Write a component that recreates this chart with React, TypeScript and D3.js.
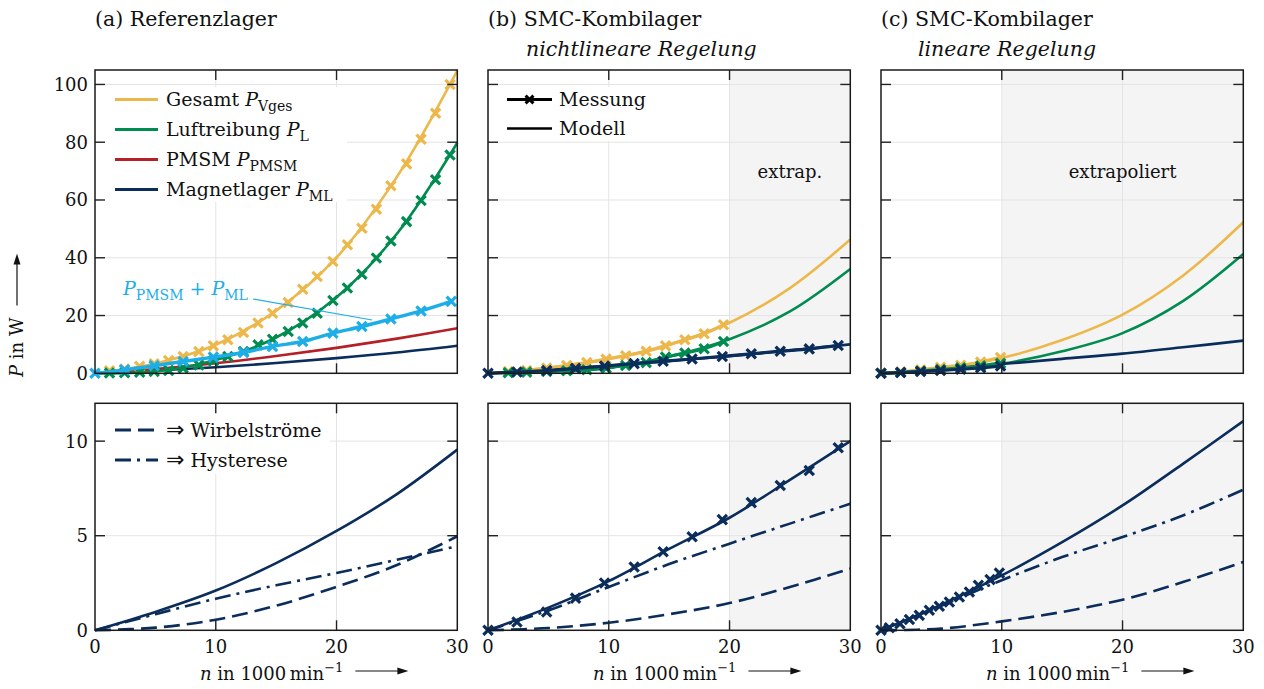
import React, { useEffect, useRef } from 'react';
import * as d3 from 'd3';

// ---------- axes ----------
const X_TICKS = [0, 10, 20, 30];
const TOP_Y_TICKS = [0, 20, 40, 60, 80, 100];
const BOTTOM_Y_TICKS = [0, 5, 10];

// ---------- model sample speeds (1000 min^-1) ----------
const MODEL_N = [0, 5, 10, 15, 20, 25, 30];

// (a) Referenzlager – Modell
const A_GESAMT = [0, 3.4, 9.9, 21.7, 40.1, 68.0, 104.8];
const A_LUFT = [0, 0.6, 4.6, 12.4, 26.3, 48.3, 79.8];
const A_PMSM = [0, 1.5, 3.5, 6.0, 8.8, 12.0, 15.6];
const A_ML = [0, 0.97, 2.1, 3.55, 5.25, 7.2, 9.55];
const A_WIRBEL = [0, 0.14, 0.56, 1.3, 2.3, 3.45, 4.97];
const A_HYST = [0, 0.85, 1.67, 2.38, 3.03, 3.73, 4.45];

// (a) Referenzlager – Messung
const A_MESS_N = [1.2, 2.45, 3.7, 4.9, 6.1, 7.3, 8.6, 9.8, 11.0, 12.3, 13.5, 14.7, 16.0, 17.2, 18.4, 19.7, 20.9, 22.1, 23.3, 24.5, 25.8, 27.0, 28.2, 29.4];
const A_MESS_GESAMT = [0.9, 1.5, 2.4, 3.3, 4.4, 5.8, 7.5, 9.5, 11.6, 14.1, 17.4, 20.8, 24.5, 29.1, 33.5, 38.7, 44.5, 50.2, 56.8, 64.9, 72.5, 81.0, 90.0, 100.0];
const A_MESS_LUFT = [0.1, 0.2, 0.4, 0.6, 1.0, 1.8, 2.9, 4.3, 5.8, 7.5, 9.9, 11.8, 14.5, 17.4, 20.8, 25.2, 29.5, 34.3, 39.9, 45.8, 52.5, 59.8, 67.0, 75.6];
const A_SUM_N = [0, 2.45, 4.9, 7.3, 9.8, 12.3, 14.7, 17.2, 19.7, 22.1, 24.5, 27.0, 29.5];
const A_SUM = [0, 1.2, 2.6, 4.1, 5.6, 7.2, 9.3, 11.0, 13.9, 16.2, 18.8, 21.6, 24.9];

// (b) SMC-Kombilager, nichtlineare Regelung – Modell
const B_GESAMT = [0, 1.9, 5.0, 9.9, 17.5, 29.5, 46.3];
const B_LUFT = [0, 0.6, 1.9, 5.8, 11.8, 21.4, 36.1];
const B_ML = [0, 1.2, 2.6, 4.3, 5.95, 7.95, 10.0];
const B_WIRBEL = [0, 0.12, 0.4, 0.85, 1.44, 2.29, 3.26];
const B_HYST = [0, 1.05, 2.29, 3.5, 4.58, 5.64, 6.69];

// (b) – Messung
const B_MESS_N = [1.68, 3.2, 4.86, 6.52, 8.18, 9.78, 11.4, 13.1, 14.7, 16.3, 17.9, 19.5];
const B_MESS_GESAMT = [0.6, 1.0, 1.8, 2.7, 3.7, 4.9, 6.1, 7.6, 9.5, 11.6, 13.7, 16.8];
const B_MESS_LUFT = [0.2, 0.4, 0.6, 0.9, 1.2, 1.8, 2.7, 3.7, 5.6, 7.0, 8.5, 11.0];
const B_MESS_ML_N = [0, 2.4, 4.86, 7.25, 9.65, 12.1, 14.5, 16.9, 19.4, 21.8, 24.2, 26.6, 29.0];
const B_MESS_ML = [0, 0.44, 0.97, 1.7, 2.5, 3.35, 4.15, 4.95, 5.85, 6.75, 7.65, 8.45, 9.65];

// (c) SMC-Kombilager, lineare Regelung – Modell
const C_GESAMT = [0, 1.8, 5.3, 11.5, 20.3, 33.8, 52.3];
const C_LUFT = [0, 1.0, 3.3, 7.6, 13.9, 25.0, 41.3];
const C_ML_TOP = [0, 1.4, 3.2, 5.0, 6.8, 9.0, 11.3];
const C_ML = [0, 1.36, 2.9, 4.66, 6.6, 8.8, 11.06];
const C_WIRBEL = [0, 0.09, 0.47, 0.97, 1.62, 2.55, 3.61];
const C_HYST = [0, 1.3, 2.65, 3.87, 4.93, 6.07, 7.43];

// (c) – Messung
const C_MESS_N = [0, 1.63, 3.28, 4.93, 6.6, 8.25, 9.9];
const C_MESS_GESAMT = [0, 0.5, 1.2, 2.1, 2.8, 3.9, 5.5];
const C_MESS_LUFT = [0, 0.3, 0.8, 1.3, 1.9, 2.6, 3.5];
const C_MESS_ML_TOP = [0, 0.25, 0.6, 1.0, 1.4, 1.9, 2.5];
const C_MESS_ML_N = [0, 0.69, 1.57, 2.35, 3.17, 4.0, 4.83, 5.66, 6.49, 7.32, 8.06, 9.03, 9.8];
const C_MESS_ML = [0, 0.14, 0.35, 0.57, 0.79, 1.06, 1.27, 1.5, 1.76, 2.02, 2.38, 2.68, 3.03];

// ---------- styling ----------
const YELLOW = '#ECB84C';
const GREEN = '#008B50';
const RED = '#B51F26';
const NAVY = '#0B2D5B';
const CYAN = '#1DAEE8';
const GRID = '#e4e4e4';
const SHADE = '#f4f4f4';
const FONT = 'DejaVu Serif';

const LEFTS = [95, 488, 881];
const PW = 362.3;
const TOP_P = { y0: 70, y1: 373.3, max: 105 };
const BOT_P = { y0: 403.3, y1: 630.3, max: 12 };

type Part = { t: string; italic?: boolean; sub?: boolean; sup?: boolean; arrow?: boolean };

function richText(parent: any, x: number, y: number, parts: Part[], fill = '#111', size = 18) {
  const t = parent.append('text').attr('x', x).attr('y', y).attr('fill', fill).attr('font-size', size);
  let shift = 0;
  const small = Math.round(size * 0.72);
  parts.forEach((p) => {
    const ts = t.append('tspan').text(p.t);
    const target = p.sub ? 5 : p.sup ? -8 : 0;
    if (target - shift !== 0) ts.attr('dy', target - shift);
    shift = target;
    if (p.sub || p.sup) ts.attr('font-size', small);
    if (p.italic) ts.attr('font-style', 'italic');
    if (p.arrow) ts.attr('font-family', 'DejaVu Sans').attr('font-size', size + 3);
  });
  return t;
}

const zip = (xs: number[], ys: number[]) => xs.map((x, i) => [x, ys[i]] as [number, number]);

export default function App() {
  const ref = useRef<SVGSVGElement>(null);

  useEffect(() => {
    const svg = d3.select(ref.current);
    svg.selectAll('*').remove();

    const makePanel = (pi: number, top: boolean, shadeFrom: number | null) => {
      const left = LEFTS[pi];
      const P = top ? TOP_P : BOT_P;
      const x = d3.scaleLinear().domain([0, 30]).range([left, left + PW]);
      const y = d3.scaleLinear().domain([0, P.max]).range([P.y1, P.y0]);
      const g = svg.append('g');
      const yTicks = top ? TOP_Y_TICKS : BOTTOM_Y_TICKS;
      if (shadeFrom !== null) {
        g.append('rect').attr('x', x(shadeFrom)).attr('y', P.y0).attr('width', x(30) - x(shadeFrom)).attr('height', P.y1 - P.y0).attr('fill', SHADE);
      }
      X_TICKS.filter((v) => v > 0 && v < 30).forEach((v) => {
        g.append('line').attr('x1', x(v)).attr('x2', x(v)).attr('y1', P.y0).attr('y2', P.y1).attr('stroke', GRID).attr('stroke-width', 1);
      });
      yTicks.filter((v) => v > 0).forEach((v) => {
        g.append('line').attr('x1', x(0)).attr('x2', x(30)).attr('y1', y(v)).attr('y2', y(v)).attr('stroke', GRID).attr('stroke-width', 1);
      });
      return { g, x, y, left, P, yTicks };
    };

    const finishPanel = (p: any, showYLabels: boolean, showXLabels: boolean) => {
      const { g, x, y, P, yTicks } = p;
      const tl = 10;
      const fr = g.append('g');
      X_TICKS.filter((v) => v > 0 && v < 30).forEach((v: number) => {
        fr.append('line').attr('x1', x(v)).attr('x2', x(v)).attr('y1', P.y0).attr('y2', P.y0 + tl).attr('stroke', '#222').attr('stroke-width', 1.4);
        fr.append('line').attr('x1', x(v)).attr('x2', x(v)).attr('y1', P.y1).attr('y2', P.y1 - tl).attr('stroke', '#222').attr('stroke-width', 1.4);
      });
      yTicks.filter((v: number) => v > 0).forEach((v: number) => {
        fr.append('line').attr('x1', x(0)).attr('x2', x(0) + tl).attr('y1', y(v)).attr('y2', y(v)).attr('stroke', '#222').attr('stroke-width', 1.4);
        fr.append('line').attr('x1', x(30)).attr('x2', x(30) - tl).attr('y1', y(v)).attr('y2', y(v)).attr('stroke', '#222').attr('stroke-width', 1.4);
      });
      fr.append('rect').attr('x', x(0)).attr('y', P.y0).attr('width', x(30) - x(0)).attr('height', P.y1 - P.y0).attr('fill', 'none').attr('stroke', '#1a1a1a').attr('stroke-width', 1.5);
      if (showYLabels) {
        yTicks.forEach((v: number) => {
          g.append('text').attr('x', x(0) - 7).attr('y', y(v) + 6.5).attr('text-anchor', 'end').attr('fill', '#111').text(String(v));
        });
      }
      if (showXLabels) {
        X_TICKS.forEach((v) => {
          g.append('text').attr('x', x(v)).attr('y', 653).attr('text-anchor', 'middle').attr('fill', '#111').text(String(v));
        });
      }
    };

    const drawLine = (p: any, pts: [number, number][], color: string, width: number, dash: string | null = null, curve: any = d3.curveCatmullRom.alpha(0.5)) => {
      const gen = d3.line<[number, number]>().x((d) => p.x(d[0])).y((d) => p.y(d[1])).curve(curve);
      const path = p.g.append('path').attr('d', gen(pts)).attr('fill', 'none').attr('stroke', color).attr('stroke-width', width).attr('stroke-linecap', 'butt').attr('stroke-linejoin', 'round');
      if (dash) path.attr('stroke-dasharray', dash);
    };

    const sym = d3.symbol().type(d3.symbolTimes).size(58);
    const drawMarkers = (p: any, pts: [number, number][], color: string, w = 3.2) => {
      pts.forEach((d) => {
        p.g.append('path').attr('d', sym()).attr('transform', `translate(${p.x(d[0])},${p.y(d[1])})`).attr('fill', 'none').attr('stroke', color).attr('stroke-width', w);
      });
    };

    const measured = (p: any, pts: [number, number][], color: string, w = 3.2) => {
      drawLine(p, pts, color, w, null, d3.curveMonotoneX);
      drawMarkers(p, pts, color);
    };

    const legendBox = (g: any, x0: number, y0: number, x1: number, y1: number) => {
      g.append('rect').attr('x', x0).attr('y', y0).attr('width', x1 - x0).attr('height', y1 - y0).attr('fill', '#fff');
    };

    // ===== (a) top =====
    const aT = makePanel(0, true, null);
    legendBox(aT.g, 101, 87, 347, 202);
    drawLine(aT, zip(MODEL_N, A_ML), NAVY, 2.6);
    drawLine(aT, zip(MODEL_N, A_PMSM), RED, 2.6);
    drawLine(aT, zip(MODEL_N, A_GESAMT), YELLOW, 2.6);
    drawMarkers(aT, zip(A_MESS_N, A_MESS_GESAMT), YELLOW);
    drawLine(aT, zip(MODEL_N, A_LUFT), GREEN, 2.6);
    drawMarkers(aT, zip(A_MESS_N, A_MESS_LUFT), GREEN);
    measured(aT, zip(A_SUM_N, A_SUM), CYAN, 3.4);
    aT.g.append('line').attr('x1', 253).attr('y1', 299).attr('x2', 372).attr('y2', 320).attr('stroke', CYAN).attr('stroke-width', 1.2);
    richText(aT.g, 123, 295, [{ t: 'P', italic: true }, { t: 'PMSM', sub: true }, { t: ' + ' }, { t: 'P', italic: true }, { t: 'ML', sub: true }], CYAN, 19);
    const legA = [
      { c: YELLOW, parts: [{ t: 'Gesamt ' }, { t: 'P', italic: true }, { t: 'Vges', sub: true }] },
      { c: GREEN, parts: [{ t: 'Luftreibung ' }, { t: 'P', italic: true }, { t: 'L', sub: true }] },
      { c: RED, parts: [{ t: 'PMSM ' }, { t: 'P', italic: true }, { t: 'PMSM', sub: true }] },
      { c: NAVY, parts: [{ t: 'Magnetlager ' }, { t: 'P', italic: true }, { t: 'ML', sub: true }] },
    ];
    legA.forEach((l, i) => {
      const yy = 99.5 + i * 30;
      aT.g.append('line').attr('x1', 115).attr('x2', 158).attr('y1', yy).attr('y2', yy).attr('stroke', l.c).attr('stroke-width', 2.8);
      richText(aT.g, 166, yy + 6.5, l.parts as Part[], '#111', 19);
    });
    finishPanel(aT, true, false);

    // ===== (a) bottom =====
    const aB = makePanel(0, false, null);
    legendBox(aB.g, 101, 409, 330, 474);
    drawLine(aB, zip(MODEL_N, A_ML), NAVY, 2.6);
    drawLine(aB, zip(MODEL_N, A_WIRBEL), NAVY, 2.6, '16,7');
    drawLine(aB, zip(MODEL_N, A_HYST), NAVY, 2.6, '16,6,3,6');
    aB.g.append('line').attr('x1', 115).attr('x2', 158).attr('y1', 430).attr('y2', 430).attr('stroke', NAVY).attr('stroke-width', 2.8).attr('stroke-dasharray', '16,7');
    aB.g.append('line').attr('x1', 115).attr('x2', 158).attr('y1', 460).attr('y2', 460).attr('stroke', NAVY).attr('stroke-width', 2.8).attr('stroke-dasharray', '16,6,3,6');
    richText(aB.g, 166, 436.5, [{ t: '\u21D2', arrow: true }, { t: ' Wirbelstr\u00F6me' }], '#111', 19);
    richText(aB.g, 166, 466.5, [{ t: '\u21D2', arrow: true }, { t: ' Hysterese' }], '#111', 19);
    finishPanel(aB, true, true);

    // ===== (b) top =====
    const bT = makePanel(1, true, 20);
    legendBox(bT.g, 495, 87, 650, 141);
    drawLine(bT, zip(MODEL_N, B_GESAMT), YELLOW, 2.6);
    drawLine(bT, zip(MODEL_N, B_LUFT), GREEN, 2.6);
    drawLine(bT, zip(MODEL_N, B_ML), NAVY, 2.6);
    measured(bT, zip(B_MESS_N, B_MESS_GESAMT), YELLOW);
    measured(bT, zip(B_MESS_N, B_MESS_LUFT), GREEN);
    measured(bT, zip(B_MESS_ML_N, B_MESS_ML), NAVY);
    bT.g.append('line').attr('x1', 507).attr('x2', 552).attr('y1', 99.5).attr('y2', 99.5).attr('stroke', '#000').attr('stroke-width', 3);
    bT.g.append('path').attr('d', d3.symbol().type(d3.symbolTimes).size(42)()).attr('transform', 'translate(529.5,99.5)').attr('fill', 'none').attr('stroke', '#000').attr('stroke-width', 3);
    bT.g.append('line').attr('x1', 507).attr('x2', 552).attr('y1', 128.5).attr('y2', 128.5).attr('stroke', '#000').attr('stroke-width', 2.6);
    richText(bT.g, 559, 106, [{ t: 'Messung' }], '#111', 19);
    richText(bT.g, 559, 135, [{ t: 'Modell' }], '#111', 19);
    bT.g.append('text').attr('x', bT.x(25)).attr('y', 178).attr('text-anchor', 'middle').attr('fill', '#111').text('extrap.');
    finishPanel(bT, false, false);

    // ===== (b) bottom =====
    const bB = makePanel(1, false, 20);
    drawLine(bB, zip(MODEL_N, B_WIRBEL), NAVY, 2.6, '16,7');
    drawLine(bB, zip(MODEL_N, B_HYST), NAVY, 2.6, '16,6,3,6');
    drawLine(bB, zip(MODEL_N, B_ML), NAVY, 2.6);
    drawMarkers(bB, zip(B_MESS_ML_N, B_MESS_ML), NAVY);
    finishPanel(bB, false, true);

    // ===== (c) top =====
    const cT = makePanel(2, true, 10);
    drawLine(cT, zip(MODEL_N, C_GESAMT), YELLOW, 2.6);
    drawLine(cT, zip(MODEL_N, C_LUFT), GREEN, 2.6);
    drawLine(cT, zip(MODEL_N, C_ML_TOP), NAVY, 2.6);
    measured(cT, zip(C_MESS_N, C_MESS_GESAMT), YELLOW);
    measured(cT, zip(C_MESS_N, C_MESS_LUFT), GREEN);
    measured(cT, zip(C_MESS_N, C_MESS_ML_TOP), NAVY);
    cT.g.append('text').attr('x', cT.x(20)).attr('y', 178).attr('text-anchor', 'middle').attr('fill', '#111').text('extrapoliert');
    finishPanel(cT, false, false);

    // ===== (c) bottom =====
    const cB = makePanel(2, false, 10);
    drawLine(cB, zip(MODEL_N, C_WIRBEL), NAVY, 2.6, '16,7');
    drawLine(cB, zip(MODEL_N, C_HYST), NAVY, 2.6, '16,6,3,6');
    drawLine(cB, zip(MODEL_N, C_ML), NAVY, 2.6);
    drawMarkers(cB, zip(C_MESS_ML_N, C_MESS_ML), NAVY);
    finishPanel(cB, false, true);

    // ===== titles =====
    richText(svg, 95, 26, [{ t: '(a) Referenzlager' }], '#111', 20.5);
    richText(svg, 488, 26, [{ t: '(b) SMC-Kombilager' }], '#111', 20.5);
    richText(svg, 526, 56, [{ t: 'nichtlineare Regelung', italic: true }], '#111', 20.5);
    richText(svg, 881, 26, [{ t: '(c) SMC-Kombilager' }], '#111', 20.5);
    richText(svg, 918, 56, [{ t: 'lineare Regelung', italic: true }], '#111', 20.5);

    // ===== arrows =====
    const arrowH = (x1: number, x2: number, yy: number) => {
      svg.append('line').attr('x1', x1).attr('x2', x2 - 8).attr('y1', yy).attr('y2', yy).attr('stroke', '#111').attr('stroke-width', 1.2);
      svg.append('path').attr('d', `M${x2},${yy}L${x2 - 11},${yy - 3.5}L${x2 - 11},${yy + 3.5}Z`).attr('fill', '#111');
    };
    const arrowV = (xx: number, y1: number, y2: number) => {
      svg.append('line').attr('x1', xx).attr('x2', xx).attr('y1', y1).attr('y2', y2 + 8).attr('stroke', '#111').attr('stroke-width', 1.2);
      svg.append('path').attr('d', `M${xx},${y2}L${xx - 3.5},${y2 + 11}L${xx + 3.5},${y2 + 11}Z`).attr('fill', '#111');
    };

    LEFTS.forEach((left) => {
      const t = richText(svg, left + 105, 680, [
        { t: 'n', italic: true },
        { t: ' in 1000\u2009min' },
        { t: '\u22121', sup: true },
      ]);
      const bb = (t.node() as SVGTextElement).getBBox();
      arrowH(bb.x + bb.width + 12, bb.x + bb.width + 65, 671);
    });

    const yl = svg.append('g').attr('transform', 'translate(23,377) rotate(-90)');
    const yt = richText(yl, 0, 0, [{ t: 'P', italic: true }, { t: ' in W' }]);
    const len = (yt.node() as SVGTextElement).getComputedTextLength();
    arrowV(17, 377 - len - 12, 377 - len - 64);
  }, []);

  return (
    <svg
      ref={ref}
      width={1264}
      height={689}
      fontFamily={FONT}
      fontSize={18}
      style={{ position: 'absolute', left: 0, top: 0, background: '#fff' }}
    />
  );
}
